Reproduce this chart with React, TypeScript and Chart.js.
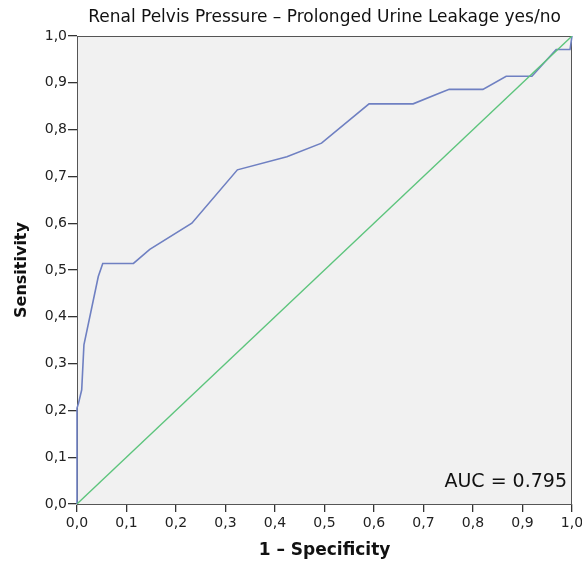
import React, { useEffect, useRef } from "react";
import { Chart, registerables } from "chart.js";

Chart.register(...registerables);

const fpr = [0, 0, 0.003, 0.0095, 0.014, 0.043, 0.052, 0.114, 0.147, 0.232, 0.324, 0.424, 0.494, 0.59, 0.679, 0.733, 0.752, 0.82, 0.867, 0.919, 0.968, 0.996, 1];
const tpr = [0, 0.205, 0.215, 0.244, 0.34, 0.486, 0.514, 0.514, 0.544, 0.6, 0.714, 0.742, 0.771, 0.855, 0.855, 0.878, 0.886, 0.886, 0.914, 0.914, 0.971, 0.971, 1];
const refX = [0, 1];
const refY = [0, 1];
const tickLabels = ["0,0", "0,1", "0,2", "0,3", "0,4", "0,5", "0,6", "0,7", "0,8", "0,9", "1,0"];
const titleText = "Renal Pelvis Pressure \u2013 Prolonged Urine Leakage yes/no";
const xTitle = "1 \u2013 Specificity";
const yTitle = "Sensitivity";
const aucText = "AUC = 0.795";

const FONT = "'DejaVu Sans', sans-serif";

export default function App() {
  const ref = useRef<HTMLCanvasElement | null>(null);
  useEffect(() => {
    if (!ref.current) return;
    const framePlugin = {
      id: "frame",
      beforeDraw(chart: any) {
        const { ctx, chartArea: a } = chart;
        ctx.save();
        ctx.fillStyle = "#f1f1f1";
        ctx.fillRect(a.left, a.top, a.right - a.left, a.bottom - a.top);
        ctx.restore();
      },
      beforeDatasetsDraw(chart: any) {
        const { ctx, chartArea: a } = chart;
        ctx.save();
        ctx.strokeStyle = "#555";
        ctx.lineWidth = 1;
        ctx.strokeRect(a.left + 0.5, a.top + 0.5, a.right - a.left - 1, a.bottom - a.top);
        ctx.restore();
      },
      afterDraw(chart: any) {
        const { ctx, chartArea: a } = chart;
        ctx.save();
        ctx.fillStyle = "#111";
        ctx.font = "19px " + FONT;
        ctx.textAlign = "right";
        ctx.textBaseline = "alphabetic";
        ctx.fillText(aucText, a.right - 5, a.bottom - 17);
        ctx.restore();
      },
    };
    const chart = new Chart(ref.current, {
      type: "line",
      data: {
        datasets: [
          {
            data: refX.map((x, i) => ({ x, y: refY[i] })),
            borderColor: "#5cc47c",
            borderWidth: 1.3,
            pointRadius: 0,
            tension: 0,
          },
          {
            data: fpr.map((x, i) => ({ x, y: tpr[i] })),
            borderColor: "#6f80c2",
            borderWidth: 1.6,
            pointRadius: 0,
            tension: 0,
            clip: 4,
          },
        ],
      },
      options: {
        animation: false,
        responsive: false,
        layout: { padding: { left: 0, right: 10, top: 0, bottom: 0 } },
        plugins: {
          legend: { display: false },
          tooltip: { enabled: false },
          title: {
            display: true,
            text: titleText,
            fullSize: false,
            color: "#111",
            font: { family: FONT, size: 17, weight: "normal" },
            padding: { top: 7, bottom: 8.6 },
          },
        },
        scales: {
          x: {
            type: "linear",
            min: 0,
            max: 1,
            ticks: {
              stepSize: 0.1,
              color: "#222",
              font: { family: FONT, size: 14 },
              padding: 3,
              maxRotation: 0,
              autoSkip: false,
              callback: (_v: any, i: number) => tickLabels[i],
            },
            grid: { drawOnChartArea: false, drawTicks: true, tickLength: 8, color: "#333", lineWidth: 1.3 },
            border: { display: true, color: "#555" },
            title: {
              display: true,
              text: xTitle,
              color: "#111",
              font: { family: FONT, size: 17, weight: "bold" },
              padding: { top: 0, bottom: 0 },
            },
            afterFit: (s: any) => {
              s.height = 57;
              s.paddingLeft = 0;
              s.paddingRight = 0;
            },
          },
          y: {
            type: "linear",
            min: 0,
            max: 1,
            ticks: {
              stepSize: 0.1,
              color: "#222",
              font: { family: FONT, size: 14 },
              padding: 1,
              autoSkip: false,
              callback: (_v: any, i: number) => tickLabels[i],
            },
            grid: { drawOnChartArea: false, drawTicks: true, tickLength: 9, color: "#333", lineWidth: 1.3 },
            border: { display: true, color: "#555" },
            title: {
              display: true,
              text: yTitle,
              color: "#111",
              font: { family: FONT, size: 16, weight: "bold" },
              padding: { top: 12, bottom: 0 },
            },
            afterFit: (s: any) => {
              s.width = 77;
              s.paddingTop = 0;
              s.paddingBottom = 0;
            },
          },
        },
      },
      plugins: [framePlugin],
    } as any);
    return () => chart.destroy();
  }, []);
  return (
    <div style={{ position: "fixed", left: 0, top: 0, width: 582, height: 561, background: "#fff" }}>
      <canvas ref={ref} width={582} height={561} style={{ width: 582, height: 561, display: "block" }} />
    </div>
  );
}
